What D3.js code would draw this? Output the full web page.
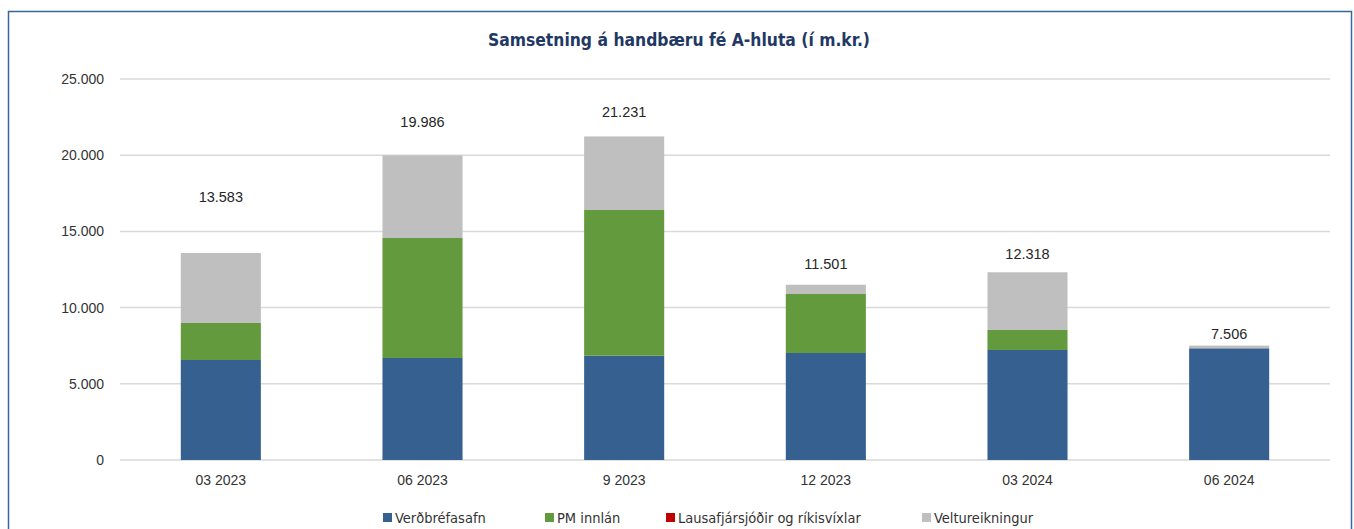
<!DOCTYPE html>
<html>
<head>
<meta charset="utf-8">
<script src="https://cdn.jsdelivr.net/npm/d3@7"></script>
<style>
  html, body { margin: 0; padding: 0; background: #fff; }
  svg { display: block; }
  .narrow { font-family: "Liberation Sans Narrow", "DejaVu Sans Condensed", "Arial Narrow", sans-serif; font-stretch: condensed; }
  .axis text { font-family: "Liberation Sans", Arial, sans-serif; font-size: 14px; fill: #333; }
</style>
</head>
<body>
<svg id="chart" width="1354" height="529"></svg>
<script>
// Quarters shown on the x axis
const categories = ["03 2023", "06 2023", "9 2023", "12 2023", "03 2024", "06 2024"];

// Components of available cash (m.kr.)
const verdbrefasafn   = [6562, 6693, 6844, 7021, 7218, 7330];
const pmInnlan        = [2428, 7874, 9560, 3871, 1312, 0];
const lausafjarsjodir = [0, 0, 0, 0, 0, 0];
const veltureikningur = [4593, 5419, 4827, 609, 3788, 176];

const seriesNames  = ["Verðbréfasafn", "PM innlán", "Lausafjársjóðir og ríkisvíxlar", "Veltureikningur"];
const seriesColors = ["#36608f", "#629a3d", "#c00000", "#bfbfbf"];
const yTicks = [0, 5000, 10000, 15000, 20000, 25000];

// Vertical lift (px) of each total label above its bar
const labelLift = [56, 33, 24, 21, 18, 12];

const svg = d3.select("#chart");
const plot = { left: 120, right: 1330, top: 79, bottom: 460 };

// Outer chart frame
svg.append("rect")
  .attr("x", 8.5).attr("y", 11.5)
  .attr("width", 1343).attr("height", 540)
  .attr("fill", "none").attr("stroke", "#3b64a0").attr("stroke-width", 1.5);

svg.append("text")
  .attr("class", "narrow")
  .attr("x", 679).attr("y", 46)
  .attr("text-anchor", "middle")
  .attr("font-size", 18).attr("font-weight", "bold")
  .attr("fill", "#1f3864")
  .attr("textLength", 382).attr("lengthAdjust", "spacingAndGlyphs")
  .text("Samsetning á handbæru fé A-hluta (í m.kr.)");

const rows = categories.map((c, i) => ({
  cat: c,
  s0: verdbrefasafn[i], s1: pmInnlan[i], s2: lausafjarsjodir[i], s3: veltureikningur[i]
}));
const keys = ["s0", "s1", "s2", "s3"];
const stacked = d3.stack().keys(keys)(rows);

const x = d3.scaleBand().domain(categories).range([plot.left, plot.right]).paddingInner(0.603).paddingOuter(0.3015);
const y = d3.scaleLinear().domain([0, 25000]).range([plot.bottom, plot.top]);

const fmt = v => d3.format(",")(v).replace(/,/g, ".");

// Gridlines
svg.append("g").selectAll("line").data(yTicks).join("line")
  .attr("x1", plot.left).attr("x2", plot.right)
  .attr("y1", d => y(d)).attr("y2", d => y(d))
  .attr("stroke", "#d9d9d9").attr("stroke-width", 1.5);

// Y axis labels
const yAxis = svg.append("g").attr("class", "axis")
  .attr("transform", `translate(${plot.left},0)`)
  .call(d3.axisLeft(y).tickValues(yTicks).tickSize(0).tickPadding(16).tickFormat(fmt));
yAxis.select(".domain").remove();

// Stacked bars
svg.append("g").selectAll("g").data(stacked).join("g")
  .attr("fill", (d, i) => seriesColors[i])
  .selectAll("rect").data(d => d).join("rect")
  .attr("x", d => x(d.data.cat))
  .attr("width", x.bandwidth())
  .attr("y", d => y(d[1]))
  .attr("height", d => y(d[0]) - y(d[1]));

// X axis labels
const xAxis = svg.append("g").attr("class", "axis")
  .attr("transform", `translate(0,${plot.bottom})`)
  .call(d3.axisBottom(x).tickSize(0).tickPadding(15));
xAxis.select(".domain").remove();

// Total labels
const totals = rows.map(r => r.s0 + r.s1 + r.s2 + r.s3);
svg.append("g").selectAll("text").data(totals).join("text")
  .attr("x", (d, i) => x(categories[i]) + x.bandwidth() / 2)
  .attr("y", (d, i) => y(d) - labelLift[i] + 5)
  .attr("text-anchor", "middle")
  .attr("font-family", "Liberation Sans, Arial, sans-serif")
  .attr("font-size", 14.5).attr("fill", "#262626")
  .text(d => fmt(d));

// Legend
const legendX = [383, 545, 666, 922];
const lg = svg.append("g").attr("class", "narrow").selectAll("g").data(seriesNames).join("g")
  .attr("transform", (d, i) => `translate(${legendX[i]},513)`);
lg.append("rect").attr("width", 9).attr("height", 9).attr("fill", (d, i) => seriesColors[i]);
lg.append("text").attr("x", 12).attr("y", 9.5)
  .attr("font-size", 14.5).attr("fill", "#333").text(d => d);
</script>
</body>
</html>
